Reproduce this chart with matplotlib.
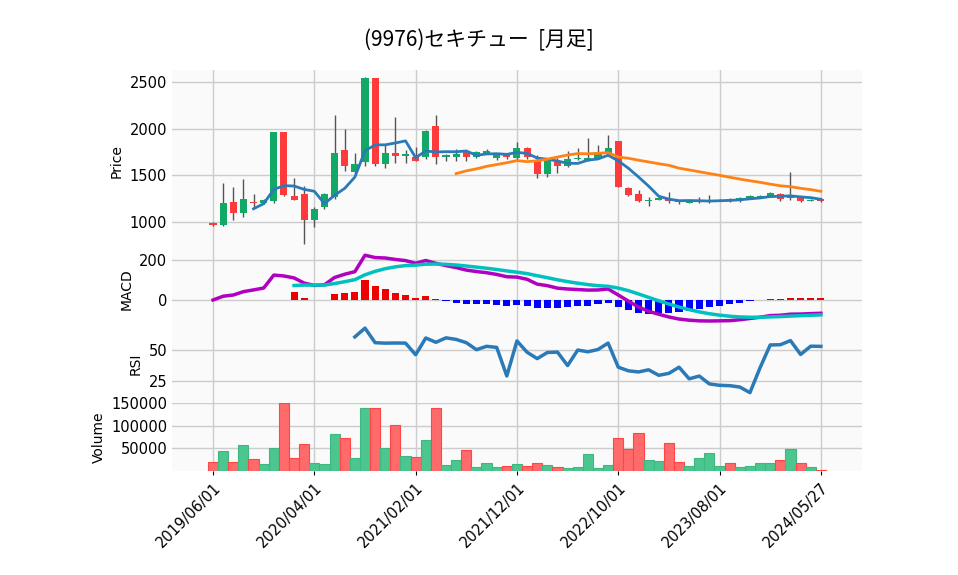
import numpy as np
import pandas as pd
import matplotlib
matplotlib.use("Agg")
import matplotlib.pyplot as plt

title = "(9976)セキチュー  [月足]"
opens  = [990,968,1214,1093,1214,1200,1221,1967,1282,1300,1018,1157,1264,1775,1532,1639,2546,1621,1739,1703,
          1693,1693,2032,1696,1693,1764,1696,1739,1682,1732,1682,1793,1668,1514,1639,1596,1675,1653,1689,1732,
          1871,1368,1303,1221,1236,1246,1228,1203,1211,1228,1228,1246,1221,1260,1268,1268,1300,1253,1268,1228,1243]
closes = [965,1203,1093,1250,1200,1239,1967,1293,1232,1018,1139,1303,1743,1603,1621,2546,1625,1743,1703,1732,
          1650,1978,1693,1718,1728,1693,1746,1764,1732,1693,1796,1696,1514,1668,1596,1675,1689,1689,1732,1796,
          1375,1293,1221,1239,1253,1221,1211,1228,1228,1236,1239,1228,1260,1282,1282,1314,1243,1282,1228,1239,1228]
highs  = [1000,1418,1375,1460,1296,1250,1970,1967,1471,1382,1160,1310,2146,1996,1735,2556,2546,1828,2121,1775,
          1803,1989,2146,1725,1782,1775,1760,1780,1740,1745,1857,1800,1721,1680,1685,1757,1793,1900,1821,1932,
          1871,1375,1339,1268,1289,1321,1230,1235,1268,1285,1250,1260,1265,1290,1290,1320,1310,1535,1275,1245,1250]
lows   = [960,960,1021,1057,1150,1190,1200,1280,1232,764,946,1140,1250,1543,1530,1596,1600,1575,1632,1632,
          1650,1680,1625,1653,1653,1653,1690,1730,1670,1680,1670,1680,1471,1482,1525,1590,1670,1650,1680,1725,
          1375,1282,1215,1168,1240,1203,1196,1200,1205,1203,1225,1215,1215,1255,1265,1265,1230,1235,1220,1225,1220]
volumes = [19000,44000,19000,57000,26000,15000,51000,149000,28000,60000,17000,15000,82000,73000,28000,138000,140000,51000,102000,33000,
           31000,69000,140000,13000,24000,46000,8000,17000,8000,10000,15000,10000,17000,13000,8000,6000,8000,37000,6000,13000,
           73000,49000,84000,24000,22000,62000,19000,10000,28000,40000,10000,17000,8000,10000,17000,17000,24000,49000,17000,8000,1500]
dates = list(pd.date_range("2019-06-01", periods=60, freq="MS").strftime("%Y/%m/%d")) + ["2024/05/27"]

o = np.array(opens, float); c = np.array(closes, float)
h = np.array(highs, float); l = np.array(lows, float); v = np.array(volumes, float)
n = len(c); x = np.arange(n)
cs = pd.Series(c)
ma5 = cs.rolling(5).mean(); ma25 = cs.rolling(25).mean()
macd = cs.ewm(span=12, adjust=False).mean() - cs.ewm(span=26, adjust=False).mean()
sig = macd.ewm(span=9, adjust=False).mean()
hist = (macd - sig).to_numpy()
d = cs.diff(); up = d.clip(lower=0).rolling(14).mean(); dn = (-d.clip(upper=0)).rolling(14).mean()
rsi = 100 - 100 / (1 + up / dn)

UP, DN = "#12a866", "#ff3a3a"
VUP, VDN = "#4cc68f", "#ff6b6b"
fig = plt.figure(figsize=(9.58, 5.75), dpi=100)
L, W = 172/958, 690/958
def ax_at(top, bot):
    return fig.add_axes([L, 1-bot/575, W, (bot-top)/575])
ax1 = ax_at(70, 253); ax2 = ax_at(253, 325); ax3 = ax_at(325, 403); ax4 = ax_at(403, 471)
for a in (ax1, ax2, ax3, ax4):
    a.set_facecolor("#fafafa")
    a.grid(True, color="#cccccc", linewidth=1)
    a.set_axisbelow(True)
    for s in a.spines.values(): s.set_visible(False)
    a.set_xlim(-4.05, 64.06)
    a.set_xticks(range(0, 61, 10))
    a.tick_params(length=0, labelsize=10.5)
    if a is not ax4: a.tick_params(labelbottom=False)

upm = c >= o
col = np.where(upm, UP, DN)
ax1.vlines(x, l, h, color="#555555", linewidth=1, zorder=2)
ax1.bar(x, np.abs(c-o), bottom=np.minimum(o, c), width=0.7, color=col, zorder=3)
ax1.plot(x, ma5, color="#2a7ab8", linewidth=2, zorder=4)
ax1.plot(x, ma25, color="#ff8214", linewidth=2, zorder=4)
ax1.set_ylim(668, 2630); ax1.set_yticks([1000, 1500, 2000, 2500])
ax1.set_ylabel("Price")

hx = x[8:]; hv = hist[8:]
ax2.bar(hx, hv, width=0.7, color=np.where(hv >= 0, "#ee0000", "#0000ff"))
ax2.plot(x, macd, color="#b000c0", linewidth=2.5)
ax2.plot(x[8:], sig[8:], color="#00c0c0", linewidth=2.5)
ax2.set_ylim(-125, 235); ax2.set_yticks([0, 200]); ax2.set_ylabel("MACD")

ax3.plot(x, rsi, color="#2a7ab8", linewidth=2.5)
ax3.set_ylim(7, 70); ax3.set_yticks([25, 50]); ax3.set_ylabel("RSI")

ax4.bar(x, v, width=1.0, color=np.where(upm, VUP, VDN), edgecolor=np.where(upm, "#3cb880", "#ff4545"), linewidth=0.8)
ax4.set_ylim(0, 150000); ax4.set_yticks([50000, 100000, 150000]); ax4.set_ylabel("Volume")
ax4.set_xticklabels([dates[i] for i in range(0, 61, 10)], rotation=45, ha="right", rotation_mode="anchor")
ax4.tick_params(axis="x", length=3)

fig.suptitle(title, y=0.95, fontsize=15, fontfamily="Noto Sans CJK JP")
fig.savefig("out.png", dpi=100)
